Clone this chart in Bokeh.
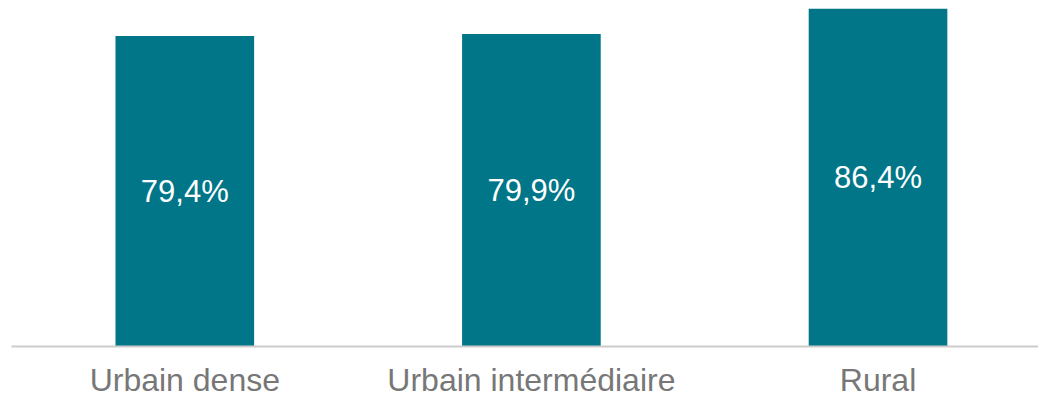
from bokeh.plotting import figure
from bokeh.models import Range1d, ColumnDataSource, FixedTicker
from bokeh.core.properties import value
from bokeh.embed import file_html
from bokeh.resources import INLINE

categories = ["Urbain dense", "Urbain intermédiaire", "Rural"]
values = [79.4, 79.9, 86.4]
labels = ["79,4%", "79,9%", "86,4%"]

xs = list(range(len(categories)))
src = ColumnDataSource(dict(x=xs, top=values, mid=[v / 2 for v in values], label=labels))

p = figure(width=1038, height=400, output_backend="svg", toolbar_location=None,
           x_range=Range1d(-0.5, 2.463), y_range=Range1d(0, max(values)),
           min_border_left=11, min_border_right=0, min_border_top=8, min_border_bottom=53)
p.outline_line_color = None
p.background_fill_color = "white"
p.border_fill_color = "white"
p.grid.visible = False
p.yaxis.visible = False

p.vbar(x="x", top="top", width=0.4, source=src, fill_color="#007688", line_color=None)
p.text(x="x", y="mid", text="label", source=src, text_align="center", text_baseline="middle",
       text_color="white", text_font=value("Liberation Sans"), text_font_size="31px")

ax = p.xaxis[0]
ax.ticker = FixedTicker(ticks=xs)
ax.major_label_overrides = {i: c for i, c in zip(xs, categories)}
ax.major_tick_line_color = None
ax.minor_tick_line_color = None
ax.major_tick_out = 0
ax.major_tick_in = 0
ax.axis_line_color = "#CCCCCC"
ax.axis_line_width = 2
ax.major_label_text_font = "Liberation Sans"
ax.major_label_text_font_size = "32px"
ax.major_label_text_color = "#777777"
ax.major_label_standoff = 15

open("out.html", "w").write(file_html(p, INLINE))
